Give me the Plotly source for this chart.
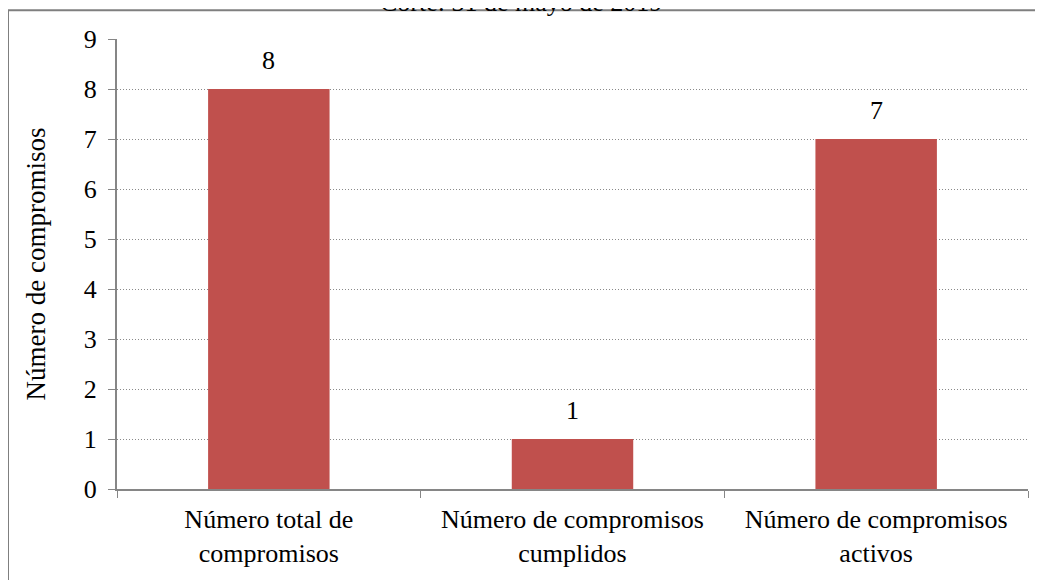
import plotly.graph_objects as go

categorias = ["Número total de<br>compromisos",
              "Número de compromisos<br>cumplidos",
              "Número de compromisos<br>activos"]
valores = [8, 1, 7]
titulo = "Corte: 31 de mayo de 2019"
eje_y = "Número de compromisos"

fuente = "Liberation Serif, Times New Roman, serif"
gris = "#868686"

fig = go.Figure(go.Bar(
    x=categorias,
    y=valores,
    marker=dict(color="#C0504D", line=dict(width=0)),
    width=0.4,
))

# etiquetas de datos un poco separadas de la barra
for c, v in zip(categorias, valores):
    fig.add_annotation(x=c, y=v, text=str(v), showarrow=False,
                       yanchor="bottom", yshift=12,
                       font=dict(size=26, color="black", family=fuente))

# la página tiene 8px de margen en el body
fig.update_layout(
    width=1035, height=572,
    margin=dict(l=109, r=15, t=31, b=89),
    paper_bgcolor="white", plot_bgcolor="white",
    font=dict(family=fuente, color="black", size=25),
    showlegend=False,
    bargap=0.6,
)

fig.update_yaxes(
    range=[0, 9], dtick=1,
    showgrid=True, gridcolor="#8a8a8a", griddash="1px,2px", gridwidth=1,
    showline=True, linecolor=gris, linewidth=2,
    ticks="outside", ticklen=7, tickcolor=gris, tickwidth=1,
    tickfont=dict(size=26),
    ticklabelstandoff=6,
    zeroline=False,
    title=dict(text=eje_y, font=dict(size=27), standoff=30),
)

fig.update_xaxes(
    showline=True, linecolor=gris, linewidth=2,
    ticks="outside", ticklen=7, tickcolor=gris, tickwidth=1,
    tickson="boundaries",
    tickfont=dict(size=26),
    ticklabelstandoff=6,
)

# título cortado arriba y marco del gráfico
fig.add_annotation(
    text=titulo, x=0.443, y=1.0 + 37 / 452, xref="paper", yref="paper",
    showarrow=False, yanchor="middle", font=dict(size=26),
)
fig.add_shape(type="line", xref="paper", yref="paper",
              x0=(8 - 117) / 911, x1=1.03, y0=1 + 29 / 452, y1=1 + 29 / 452,
              line=dict(color="#7f7f7f", width=2))
fig.add_shape(type="line", xref="paper", yref="paper",
              x0=(8 - 117) / 911, x1=(8 - 117) / 911, y0=1 + 29 / 452, y1=-0.3,
              line=dict(color="#7f7f7f", width=2))

fig.write_html("out.html")
